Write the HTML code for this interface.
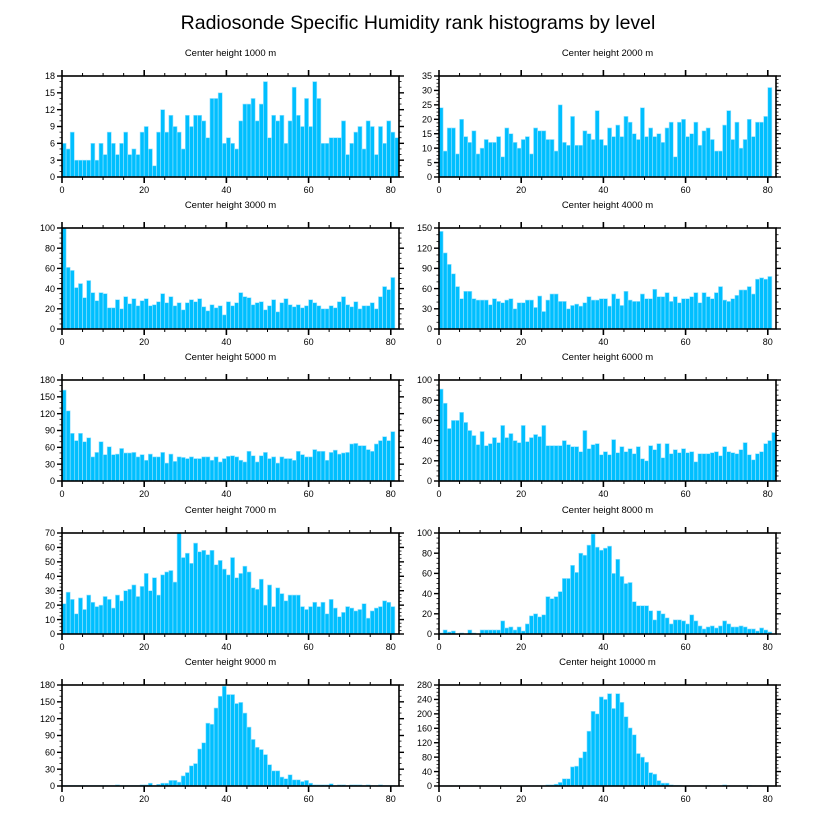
<!DOCTYPE html>
<html><head><meta charset="utf-8"><style>
html,body{margin:0;padding:0;background:#fff;}
svg{display:block;font-family:"Liberation Sans",sans-serif;}
</style></head><body>
<svg id="chart" width="816" height="824" viewBox="0 0 816 824" xmlns="http://www.w3.org/2000/svg">
<text x="418" y="29" font-size="19.5" text-anchor="middle" fill="#000">Radiosonde Specific Humidity rank histograms by level</text>
</svg>
<script>
const levels = ["1000","2000","3000","4000","5000","6000","7000","8000","9000","10000"];
const yMaxes = [18,35,100,150,180,100,70,100,180,280];
const ySteps = [3,5,20,30,30,20,10,20,30,40];
const xTicks = [0,20,40,60,80];
const h1000 = [6,5,8,3,3,3,3,6,3,6,4,8,6,4,6,8,4,5,4,8,9,5,2,8,12,8,11,9,8,5,11,9,11,11,10,7,14,14,15,6,7,6,5,10,13,13,14,10,13,17,7,11,10,11,6,10,16,11,9,14,9,17,14,6,6,7,7,7,10,4,6,8,9,5,10,9,4,9,6,10,8,7];
const h2000 = [24,9,17,17,8,20,14,12,16,8,10,13,12,12,14,7,17,15,12,10,13,14,8,17,16,16,13,13,9,25,12,11,21,11,11,16,15,13,23,13,11,17,14,18,14,21,19,15,13,24,14,17,14,15,12,17,19,7,19,20,14,15,19,11,16,17,13,9,9,18,23,13,19,10,13,20,14,19,19,21,31];
const h3000 = [100,61,58,41,45,31,48,36,28,36,35,21,21,29,20,32,25,30,23,28,30,23,24,27,35,26,32,23,26,19,26,29,27,30,22,18,24,21,23,14,27,23,26,36,32,31,24,26,27,19,23,29,17,26,30,24,22,24,21,23,29,26,23,20,20,23,21,27,32,24,22,27,20,23,23,26,20,32,42,39,51];
const h4000 = [145,113,96,82,63,45,56,56,45,43,43,43,36,45,41,39,43,45,30,39,39,43,43,32,49,26,43,52,52,41,41,30,35,37,34,39,48,43,43,45,45,34,52,45,35,56,43,41,41,52,45,45,59,48,48,54,41,48,39,45,45,48,54,39,54,48,45,54,63,43,41,45,50,58,58,63,52,74,76,74,78];
const h5000 = [162,125,85,72,85,70,77,43,51,70,47,61,47,48,58,50,50,51,43,47,37,48,43,43,51,32,48,35,43,42,40,43,40,40,43,43,37,43,34,40,44,45,43,37,34,53,45,34,45,51,40,43,32,43,40,40,37,53,47,43,43,56,53,53,37,51,55,48,50,51,66,67,63,63,56,53,66,72,79,72,88];
const h6000 = [91,77,52,60,60,68,58,50,45,36,49,35,37,43,38,55,43,47,40,38,55,39,43,46,44,55,35,35,35,35,40,36,34,34,29,50,32,36,37,26,29,26,41,28,34,29,32,27,34,22,20,35,31,37,23,37,27,31,28,32,28,29,19,27,27,27,28,29,25,34,29,28,27,31,38,26,21,27,29,37,40,48];
const h7000 = [21,29,24,14,25,17,27,22,19,20,26,24,18,27,23,30,31,34,26,33,42,30,39,27,41,43,44,36,70,53,56,49,63,57,58,55,58,48,51,45,41,53,39,42,47,43,32,31,38,20,34,19,32,28,23,27,27,27,19,17,19,22,19,22,14,24,18,12,15,19,18,16,17,21,11,16,18,19,23,22,19];
const h8000 = [1,4,2,3,0,1,0,4,1,0,4,4,4,4,4,13,6,7,4,7,3,10,18,20,17,19,37,35,37,42,55,55,68,61,80,78,88,99,86,83,85,87,60,74,57,50,51,32,28,28,28,23,14,23,20,16,10,14,14,13,10,19,13,8,5,7,8,6,8,13,10,7,7,8,7,5,5,3,6,4,2];
const h9000 = [1,1,1,1,1,1,1,1,1,1,1,1,1,2,1,1,1,1,1,2,2,5,1,3,5,5,10,10,7,18,24,36,40,66,77,112,110,139,160,178,163,163,147,149,130,105,83,69,65,56,38,27,27,16,13,20,11,11,8,10,5,2,2,2,2,4,1,2,2,1,2,2,2,1,2,1,1,2,1,1,1];
const h10000 = [1,1,1,1,1,1,1,1,1,1,1,1,1,1,1,1,1,1,1,1,1,1,1,1,1,1,3,3,5,10,20,20,53,55,78,95,152,207,200,247,240,256,215,256,232,192,161,142,90,80,66,37,33,15,8,8,3,2,2,1,1,1,1,1,1,2,1,1,1,3,1,1,1,1,1,2,1,1,1,1,1];
const series = [h1000,h2000,h3000,h4000,h5000,h6000,h7000,h8000,h9000,h10000];

const NS = "http://www.w3.org/2000/svg";
const svg = document.getElementById("chart");
const XMAX = 82;
const colL = [62, 439], colW = 337, rowT = [76, 228, 380, 533, 685], rowH = 101;

function mk(tag, attrs, parent) {
  const e = document.createElementNS(NS, tag);
  for (const k in attrs) e.setAttribute(k, attrs[k]);
  (parent || svg).appendChild(e);
  return e;
}
function line(g, x1, y1, x2, y2, w) {
  mk("line", {x1, y1, x2, y2, stroke: "#000", "stroke-width": w || 1}, g);
}

levels.forEach((lev, p) => {
  const L = colL[p % 2], T = rowT[Math.floor(p / 2)], W = colW, H = rowH;
  const ymax = yMaxes[p], ystep = ySteps[p], vals = series[p];
  const xs = v => L + v / XMAX * W;
  const ys = v => T + H - v / ymax * H;
  const g = mk("g", {});
  
  
  const t = mk("text", {x: L + W / 2, y: T - 20, "font-size": "9.5", "text-anchor": "middle"}, g);
  
  
  t.textContent = "Center height " + lev + " m";
  vals.forEach((v, i) => {
    const r = mk("rect", {x: xs(i), y: ys(v), width: xs(i + 1) - xs(i), height: ys(0) - ys(v), fill: "#00bfff", stroke: "#9be3ff", "stroke-width": 0.6}, g);
    
    
  });
  mk("rect", {x: L, y: T, width: W, height: H, fill: "none", stroke: "#000", "stroke-width": 1.6}, g);
  // x ticks
  for (let v = 0; v <= 80; v += 5) {
    const major = v % 20 === 0, len = major ? 6 : 3, x = xs(v);
    line(g, x, T, x, T - len, major ? 1.6 : 1);
    line(g, x, T + H, x, T + H + len, major ? 1.6 : 1);
  }
  xTicks.forEach(v => {
    const tx = mk("text", {x: xs(v), y: T + H + 16, "font-size": "9", "text-anchor": "middle"}, g);
    
    
    tx.textContent = v;
  });
  // y ticks
  const minor = ystep / 3 >= 1 && ystep % 3 === 0 ? ystep / 3 : ystep / 4;
  for (let v = 0; v <= ymax + 1e-9; v += minor) {
    const isMajor = Math.abs(v / ystep - Math.round(v / ystep)) < 1e-6;
    const len = isMajor ? 5 : 2.5, y = ys(v);
    line(g, L, y, L - len, y, isMajor ? 1.4 : 0.8);
    line(g, L + W, y, L + W + len, y, isMajor ? 1.4 : 0.8);
  }
  for (let v = 0; v <= ymax; v += ystep) {
    const ty = mk("text", {x: L - 7, y: ys(v) + 3.2, "font-size": "9", "text-anchor": "end"}, g);
    
    
    ty.textContent = v;
  }
});
</script>
</body></html>
